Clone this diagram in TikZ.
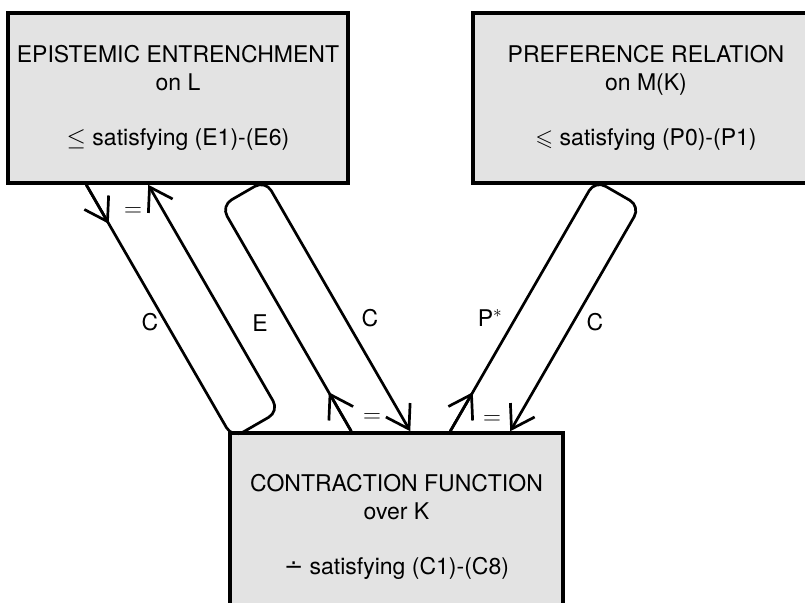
\documentclass[tikz,border=0pt]{standalone}
\usepackage{amssymb}
\usepackage{fontspec}
\setmainfont{TeX Gyre Heros}
\newfontfamily\opfont{DejaVu Sans}
\usetikzlibrary{arrows.meta,calc,positioning}

\begin{document}
\begin{tikzpicture}[x=1pt,y=1pt,>={Straight Barb[length=22pt,width=28pt]},
	box/.style={draw,line width=3.5pt,fill=black!11,align=center,inner sep=0pt,font=\fontsize{23}{28}\selectfont},
	tube/.style={line width=2.7pt,rounded corners=12pt},
	lbl/.style={font=\fontsize{23}{28}\selectfont}]
	\useasboundingbox (0,0) rectangle (805,602);

	\node[box,minimum width=340,minimum height=170] (ee) at (178,504) {EPISTEMIC ENTRENCHMENT\\on L\\[27pt]$\leq$ satisfying (E1)-(E6)};
	\node[box,minimum width=346,minimum height=170] (pr) at (646,504) {PREFERENCE RELATION\\on M(K)\\[27pt]$\leqslant$ satisfying (P0)-(P1)};
	\node[box,minimum width=333,minimum height=188] (cf) at (396.5,75) {CONTRACTION FUNCTION\\over K\\[27pt]{\opfont ∸} satisfying (C1)-(C8)};

	% ends of the three loops
	\coordinate (lt1) at ($(ee.south west)+(80,0)$);
	\coordinate (lt2) at ($(ee.south west)+(142,0)$);
	\coordinate (mt1) at ($(cf.north west)+(123,0)$);
	\coordinate (mt2) at ($(cf.north west)+(182,0)$);
	\coordinate (rt1) at ($(cf.north west)+(222,0)$);
	\coordinate (rt2) at ($(cf.north west)+(282,0)$);

	\draw[tube,->] (lt1) -- ++(-60:292.6) -- ++(30:53.7) -- (lt2);
	\draw[tube,->] (lt1) -- ++(-60:45);
	\draw[tube,->] (mt1) -- ++(120:260.3) -- ++(30:51) -- (mt2);
	\draw[tube,->] (mt1) -- ++(120:45);
	\draw[tube,->] (rt1) -- ++(60:289.8) -- ++(-30:52) -- (rt2);
	\draw[tube,->] (rt1) -- ++(60:45);

	\node[lbl] (eq1) at (133,390) {$=$};
	\node[lbl] (eq2) at (372,184) {$=$};
	\node[lbl] (eq3) at (492,182) {$=$};
	\node[lbl] (c1) at (150,280) {C};
	\node[lbl] (e1) at (260,279) {E};
	\node[lbl] (c2) at (370,284) {C};
	\node[lbl] (p1) at (490,284) {P$^{\ast}$};
	\node[lbl] (c3) at (595,280) {C};
\end{tikzpicture}
\end{document}
